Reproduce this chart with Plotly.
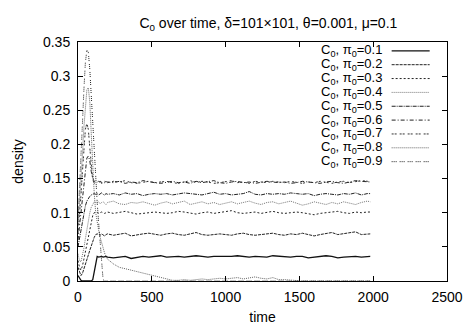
import plotly.graph_objects as go

# ---------------- data ----------------
time = [0, 10, 20, 30, 40, 50, 60, 70, 80, 90,
        100, 110, 120, 130, 140, 150, 160, 170, 180, 190,
        200, 240, 280, 320, 360, 400, 440, 480, 520, 560,
        600, 640, 680, 720, 760, 800, 840, 880, 920, 960,
        1000, 1040, 1080, 1120, 1160, 1200, 1240, 1280, 1320, 1360,
        1400, 1440, 1480, 1520, 1560, 1600, 1640, 1680, 1720, 1760,
        1800, 1840, 1880, 1920, 1960, 1980]

pi0_01 = [.008, .004, .001, 0, 0, 0, 0, 0, 0, 0,
          .002, .014, .030, .036, .035, .036, .036, .035, .036, .036,
          .035, .034, .035, .036, .033, .035, .036, .035, .036, .037,
          .035, .036, .036, .035, .036, .037, .036, .035, .036, .036,
          .035, .036, .037, .036, .035, .036, .036, .035, .037, .036,
          .036, .035, .036, .036, .034, .035, .036, .037, .036, .034,
          .035, .036, .036, .035, .036, .036]

pi0_02 = [.020, .012, .008, .011, .017, .024, .031, .038, .045, .052,
          .058, .064, .068, .069, .068, .067, .069, .068, .066, .068,
          .069, .067, .068, .070, .066, .068, .069, .070, .068, .067,
          .069, .070, .068, .067, .069, .071, .068, .067, .068, .069,
          .068, .067, .069, .070, .068, .067, .068, .069, .070, .068,
          .067, .069, .068, .070, .068, .066, .068, .069, .071, .068,
          .069, .070, .072, .068, .069, .069]

pi0_03 = [.030, .020, .016, .022, .032, .043, .055, .067, .078, .088,
          .096, .100, .101, .100, .099, .100, .101, .100, .099, .100,
          .101, .099, .100, .102, .100, .098, .099, .100, .101, .100,
          .099, .100, .102, .101, .099, .098, .100, .101, .099, .100,
          .101, .103, .100, .099, .100, .101, .099, .100, .102, .100,
          .099, .100, .101, .100, .098, .097, .099, .100, .101, .102,
          .100, .099, .101, .100, .101, .101]

pi0_04 = [.040, .030, .028, .036, .048, .062, .076, .089, .100, .108,
          .113, .116, .115, .114, .116, .113, .115, .116, .114, .112,
          .115, .117, .113, .112, .115, .114, .116, .113, .111, .114,
          .116, .113, .115, .117, .112, .114, .116, .113, .115, .112,
          .114, .116, .113, .115, .117, .114, .112, .115, .116, .113,
          .115, .117, .114, .111, .113, .116, .114, .112, .115, .113,
          .116, .114, .112, .115, .117, .116]

pi0_05 = [.050, .062, .075, .088, .100, .110, .117, .121, .124, .126,
          .127, .128, .127, .128, .126, .128, .129, .127, .126, .128,
          .127, .128, .126, .129, .127, .128, .125, .127, .128, .127,
          .128, .126, .127, .129, .128, .127, .126, .128, .130, .127,
          .128, .126, .127, .128, .131, .127, .126, .128, .127, .128,
          .127, .129, .128, .127, .128, .125, .127, .128, .127, .126,
          .128, .127, .129, .126, .128, .128]

pi0_06 = [.060, .080, .102, .125, .148, .168, .180, .183, .176, .160,
          .150, .146, .144, .145, .144, .146, .145, .143, .144, .146,
          .145, .144, .146, .143, .145, .144, .147, .145, .144, .143,
          .145, .146, .144, .145, .143, .146, .144, .145, .147, .144,
          .143, .145, .146, .144, .145, .143, .144, .146, .145, .144,
          .145, .143, .144, .146, .145, .144, .143, .145, .146, .144,
          .143, .145, .147, .146, .145, .145]

pi0_07 = [.070, .095, .125, .160, .195, .222, .231, .222, .195, .165,
          .148, .143, .145, .144, .146, .145, .143, .144, .146, .145,
          .144, .146, .145, .147, .144, .143, .145, .146, .144, .145,
          .146, .144, .143, .145, .147, .144, .146, .145, .143, .144,
          .145, .147, .144, .145, .143, .146, .145, .144, .146, .145,
          .144, .146, .145, .143, .145, .144, .146, .145, .143, .145,
          .146, .144, .145, .147, .146, .146]

pi0_08 = [.080, .110, .145, .185, .225, .260, .280, .283, .262, .215,
          .165, .128, .100, .085, .074, .064, .055, .047, .041, .036,
          .032, .025, .020, .018, .016, .014, .012, .010, .008, .005,
          .003, .001, .001, .002, .001, .002, .003, .002, .003, .004,
          .003, .004, .005, .003, .004, .006, .004, .003, .005, .002,
          .002, .001, .001, 0, 0, 0, 0, 0, 0, 0,
          0, 0, 0, 0, 0, 0]

pi0_09 = [.090, .130, .180, .230, .280, .320, .338, .335, .310, .270,
          .225, .185, .150, .115, .085, .055, .020, .002, 0, 0,
          0, 0, 0, 0, 0, 0, 0, 0, 0, 0,
          0, 0, 0, 0, 0, 0, 0, 0, 0, 0,
          0, 0, 0, 0, 0, 0, 0, 0, 0, 0,
          0, 0, 0, 0, 0, 0, 0, 0, 0, 0,
          0, 0, 0, 0, 0, 0]

series_labels = ["0.1", "0.2", "0.3", "0.4", "0.5", "0.6", "0.7", "0.8", "0.9"]
series_values = [pi0_01, pi0_02, pi0_03, pi0_04, pi0_05, pi0_06, pi0_07, pi0_08, pi0_09]

x_ticks = [0, 500, 1000, 1500, 2000, 2500]
x_tick_text = ["0", "500", "1000", "1500", "2000", "2500"]
y_ticks = [0, 0.05, 0.1, 0.15, 0.2, 0.25, 0.3, 0.35]
y_tick_text = ["0", "0.05", "0.1", "0.15", "0.2", "0.25", "0.3", "0.35"]

# ---------------- styles ----------------
dashes = ["solid", "3px,1px", "2px,2px", "1px,1px", "4px,1px,1px,1px",
          "4px,2px,1px,2px", "2px,1px,2px,3px", "1px,1px",
          "1px,1px,1px,1px,1px,3px"]
colors = ["#111111", "#222222", "#222222", "#777777", "#222222",
          "#222222", "#333333", "#666666", "#222222"]
widths = [1.3, 1, 1, 1, 1, 1, 1, 1, 1]

FONT = "Liberation Sans, Arial, Helvetica, sans-serif"
FS = 14
KEY_FS = 13

fig = go.Figure()
for lab, vals, d, c, w in zip(series_labels, series_values, dashes, colors, widths):
    fig.add_trace(go.Scatter(
        x=time, y=vals, mode="lines",
        name=f"C<sub>0</sub>, π<sub>0</sub>={lab}",
        line=dict(color=c, width=w, dash=d),
        showlegend=False,
    ))

# gnuplot-style key: text right-aligned, sample to its right
key_top = 0.963
key_step = 14.2 / 245.0
for i, (lab, d, c, w) in enumerate(zip(series_labels, dashes, colors, widths)):
    yy = key_top - i * key_step
    fig.add_annotation(
        xref="paper", yref="paper", x=0.826, y=yy,
        text=f"C<sub>0</sub>, π<sub>0</sub>={lab}",
        showarrow=False, xanchor="right", yanchor="middle",
        font=dict(family=FONT, size=KEY_FS, color="black"),
        borderpad=0,
    )
    fig.add_shape(
        type="line", xref="paper", yref="paper",
        x0=0.850, x1=0.953, y0=yy, y1=yy,
        line=dict(color=c, width=w, dash=d),
    )

axis_common = dict(
    showline=True, linecolor="black", linewidth=1, mirror="allticks",
    ticks="inside", ticklen=5, tickcolor="black", tickwidth=1,
    showgrid=False, zeroline=False,
    tickfont=dict(family=FONT, size=FS, color="black"),
)

fig.update_layout(
    width=475, height=335,
    margin=dict(l=78, r=16, t=42, b=48),
    paper_bgcolor="white", plot_bgcolor="white",
    font=dict(family=FONT, size=FS, color="black"),
    title=dict(
        text="C<sub>0</sub> over time, δ=101×101, θ=0.001, μ=0.1",
        x=0.565, xanchor="center", y=0.93, yanchor="middle",
        font=dict(family=FONT, size=FS, color="black"),
    ),
    xaxis=dict(
        range=[0, 2500], tickvals=x_ticks, ticktext=x_tick_text,
        title=dict(text="time", standoff=8, font=dict(family=FONT, size=FS)),
        ticklabelstandoff=3,
        **axis_common,
    ),
    yaxis=dict(
        range=[0, 0.35], tickvals=y_ticks, ticktext=y_tick_text,
        title=dict(text="density", standoff=16, font=dict(family=FONT, size=FS)),
        ticklabelstandoff=4,
        **axis_common,
    ),
)

fig.write_html("out.html")
